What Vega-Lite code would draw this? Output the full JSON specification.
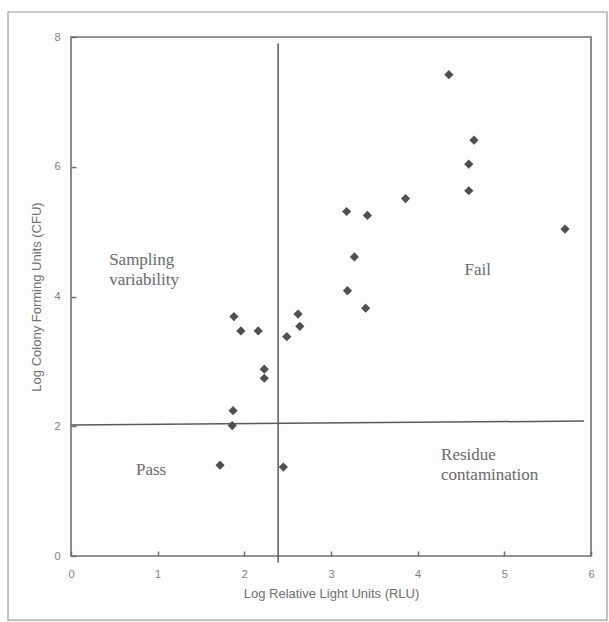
{
  "$schema": "https://vega.github.io/schema/vega-lite/v6.json",
  "autosize": "none",
  "width": 520,
  "height": 519,
  "padding": {"left": 71, "top": 37, "right": 18, "bottom": 66},
  "background": "#fdfdfd",
  "config": {
    "view": {"stroke": "#707070", "strokeWidth": 1.6},
    "axis": {"grid": false, "domain": false, "labelFont": "Liberation Sans", "titleFont": "Liberation Sans", "labelColor": "#808080", "titleColor": "#707070", "tickColor": "#707070", "tickWidth": 1.5, "labelFontSize": 11, "titleFontSize": 13, "titleFontWeight": "normal", "format": "d"}
  },
  "datasets": {
    "points": [
      {"rlu": 4.36, "cfu": 7.42},
      {"rlu": 4.65, "cfu": 6.41},
      {"rlu": 4.59, "cfu": 6.04},
      {"rlu": 4.59, "cfu": 5.63},
      {"rlu": 3.86, "cfu": 5.51},
      {"rlu": 3.18, "cfu": 5.31},
      {"rlu": 3.42, "cfu": 5.25},
      {"rlu": 5.70, "cfu": 5.04},
      {"rlu": 3.27, "cfu": 4.61},
      {"rlu": 3.19, "cfu": 4.09},
      {"rlu": 3.40, "cfu": 3.82},
      {"rlu": 1.88, "cfu": 3.69},
      {"rlu": 2.62, "cfu": 3.73},
      {"rlu": 1.96, "cfu": 3.47},
      {"rlu": 2.16, "cfu": 3.47},
      {"rlu": 2.64, "cfu": 3.54},
      {"rlu": 2.49, "cfu": 3.38},
      {"rlu": 2.23, "cfu": 2.88},
      {"rlu": 2.23, "cfu": 2.74},
      {"rlu": 1.87, "cfu": 2.24},
      {"rlu": 1.86, "cfu": 2.01},
      {"rlu": 1.72, "cfu": 1.40},
      {"rlu": 2.45, "cfu": 1.37}
    ],
    "lines": [
      {"x": 2.39, "x2": 2.39, "y": -0.1, "y2": 7.9},
      {"x": 0, "x2": 5.92, "y": 2.02, "y2": 2.08}
    ],
    "labels": [
      {"label": "Sampling", "x": 0.44, "y": 4.56},
      {"label": "variability", "x": 0.44, "y": 4.26},
      {"label": "Fail", "x": 4.54, "y": 4.41},
      {"label": "Pass", "x": 0.75, "y": 1.33},
      {"label": "Residue", "x": 4.27, "y": 1.56},
      {"label": "contamination", "x": 4.27, "y": 1.25}
    ],
    "frame": [
      {"x": -0.727, "x2": 6.184, "y": -0.987, "y2": 8.385}
    ]
  },
  "layer": [
    {
      "data": {"name": "frame"},
      "mark": {"type": "rect", "fill": null, "stroke": "#9a9a9a", "strokeWidth": 1.2, "clip": false},
      "encoding": {
        "x": {"field": "x", "type": "quantitative", "scale": {"domain": [0, 6], "nice": false}, "axis": {"values": [0, 1, 2, 3, 4, 5, 6], "title": "Log Relative Light Units (RLU)", "tickSize": -5, "labelPadding": 17, "titlePadding": 8, "labelFlush": false}},
        "x2": {"field": "x2"},
        "y": {"field": "y", "type": "quantitative", "scale": {"domain": [0, 8], "nice": false}, "axis": {"values": [0, 2, 4, 6, 8], "title": "Log Colony Forming Units (CFU)", "tickSize": -5, "labelPadding": 16, "titlePadding": 10, "labelFlush": false}},
        "y2": {"field": "y2"}
      }
    },
    {
      "data": {"name": "lines"},
      "mark": {"type": "rule", "color": "#5a5a5a", "strokeWidth": 1.5},
      "encoding": {
        "x": {"field": "x", "type": "quantitative"},
        "x2": {"field": "x2"},
        "y": {"field": "y", "type": "quantitative"},
        "y2": {"field": "y2"}
      }
    },
    {
      "data": {"name": "points"},
      "mark": {"type": "point", "shape": "diamond", "filled": true, "color": "#505050", "size": 85, "opacity": 1},
      "encoding": {
        "x": {"field": "rlu", "type": "quantitative"},
        "y": {"field": "cfu", "type": "quantitative"}
      }
    },
    {
      "data": {"name": "labels"},
      "mark": {"type": "text", "align": "left", "baseline": "middle", "font": "Liberation Serif", "fontSize": 17, "color": "#6a6a6a"},
      "encoding": {
        "x": {"field": "x", "type": "quantitative"},
        "y": {"field": "y", "type": "quantitative"},
        "text": {"field": "label"}
      }
    }
  ]
}
